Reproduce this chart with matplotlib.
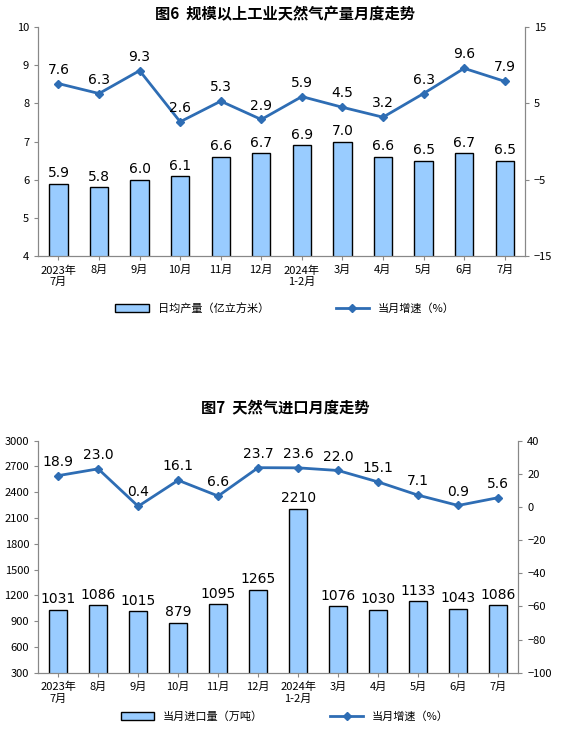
import matplotlib.pyplot as plt
from matplotlib.lines import Line2D
from matplotlib.patches import Patch

plt.rcParams['font.family'] = ['Noto Sans CJK SC', 'DejaVu Sans']

months = ["2023年\n7月", "8月", "9月", "10月", "11月", "12月", "2024年\n1-2月",
          "3月", "4月", "5月", "6月", "7月"]
gas_output = [5.9, 5.8, 6.0, 6.1, 6.6, 6.7, 6.9, 7.0, 6.6, 6.5, 6.7, 6.5]
gas_growth = [7.6, 6.3, 9.3, 2.6, 5.3, 2.9, 5.9, 4.5, 3.2, 6.3, 9.6, 7.9]
import_vol = [1031, 1086, 1015, 879, 1095, 1265, 2210, 1076, 1030, 1133, 1043, 1086]
import_growth = [18.9, 23.0, 0.4, 16.1, 6.6, 23.7, 23.6, 22.0, 15.1, 7.1, 0.9, 5.6]

bar_c = '#99ccff'
line_c = '#2e6db4'
fig = plt.figure(figsize=(5.7, 7.32), dpi=100)


def panel(rect, bars, line, ylim, yticks, y2lim, y2ticks, bar_fmt, title, title_y,
          bar_label, line_label, leg_y):
    ax = fig.add_axes(rect)
    x = list(range(len(months)))
    ax.bar(x, bars, width=0.45, color=bar_c, edgecolor='black', linewidth=1, zorder=2)
    ax.set_ylim(*ylim)
    ax.set_yticks(yticks)
    ax.set_xlim(-0.5, len(months) - 0.5)
    ax.set_xticks(x)
    ax.set_xticklabels(months, fontsize=8)
    ax.tick_params(labelsize=8, length=3, color='#888888')
    ax.spines['top'].set_visible(False)
    for s in ax.spines.values():
        s.set_color('#888888')
    for xi, v in zip(x, bars):
        ax.text(xi, v + (ylim[1] - ylim[0]) * 0.015, bar_fmt.format(v),
                ha='center', va='bottom', fontsize=10, family='DejaVu Sans')
    ax2 = ax.twinx()
    ax2.plot(x, line, color=line_c, linewidth=2, marker='D', markersize=4)
    ax2.set_ylim(*y2lim)
    ax2.set_yticks(y2ticks)
    ax2.tick_params(labelsize=8, length=3, color='#888888')
    ax2.spines['top'].set_visible(False)
    for s in ax2.spines.values():
        s.set_color('#888888')
    for xi, v in zip(x, line):
        ax2.text(xi, v + (y2lim[1] - y2lim[0]) * 0.03, f"{v:.1f}",
                 ha='center', va='bottom', fontsize=10, family='DejaVu Sans')
    fig.text(0.5, title_y, title, ha='center', va='center', fontsize=11, fontweight='bold')
    handles = [Patch(facecolor=bar_c, edgecolor='black', label=bar_label),
               Line2D([0], [0], color=line_c, linewidth=2, marker='D', markersize=4,
                      label=line_label)]
    fig.legend(handles=handles, loc='center', bbox_to_anchor=(0.5, leg_y), ncol=2,
               frameon=False, fontsize=8, columnspacing=6, handlelength=3)


panel([0.067, 0.650, 0.854, 0.313], gas_output, gas_growth, (4, 10), range(4, 11),
      (-15, 15), [-15, -5, 5, 15], "{:.1f}", "图6  规模以上工业天然气产量月度走势", 0.981,
      "日均产量（亿立方米）", "当月增速（%）", 0.579)
panel([0.067, 0.081, 0.842, 0.317], import_vol, import_growth, (300, 3000),
      range(300, 3001, 300), (-100, 40), range(-100, 41, 20), "{:.0f}",
      "图7  天然气进口月度走势", 0.443, "当月进口量（万吨）", "当月增速（%）", 0.021)

fig.savefig("out.png", dpi=100)
